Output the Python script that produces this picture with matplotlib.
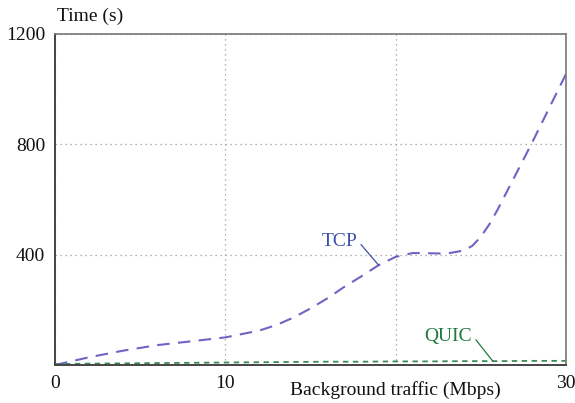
import matplotlib
matplotlib.use("Agg")
import matplotlib.pyplot as plt

plt.rcParams['font.family'] = ['Liberation Serif', 'DejaVu Serif']

tcp_x = [0, 2, 4, 6, 8, 10, 12, 13, 14, 15, 16, 17, 18, 19, 20, 21, 22, 23, 24, 24.5, 25, 25.5, 26, 27, 28, 29, 30]
tcp_y = [0, 28, 52, 72, 86, 100, 125, 145, 172, 205, 242, 284, 322, 362, 392, 406, 405, 404, 415, 432, 465, 510, 565, 685, 805, 930, 1055]
quic_x = [0, 2, 4, 6, 8, 10, 12, 14, 16, 18, 20, 22, 24, 26, 28, 30]
quic_y = [3, 5, 6, 7, 8, 9, 10, 11, 12, 12, 13, 13, 14, 14, 15, 15]
xticks = [0, 10, 20, 30]
xticklabels = ['0', '10', '', '30']
yticks = [400, 800, 1200]
yticklabels = ['400', '800', '1200']

fig = plt.figure(figsize=(5.75, 4.03), dpi=100)
ax = fig.add_axes([55/575, 1-365/403, (566-55)/575, (365-34)/403])

ax.plot(tcp_x, tcp_y, color='#6f63c4', lw=1.5, dashes=(6, 4))
ax.plot(quic_x, quic_y, color='#3a8a55', lw=1.3, dashes=(3, 2.5))

ax.set_xlim(0, 30)
ax.set_ylim(0, 1200)
ax.set_xticks(xticks)
ax.set_xticklabels(xticklabels)
ax.set_yticks(yticks)
ax.set_yticklabels(yticklabels)
ax.tick_params(length=0, labelsize=14, colors='#111111')
ax.tick_params(axis='x', pad=7)
ax.tick_params(axis='y', pad=7)
ax.grid(True, color='#999999', linestyle=(0, (1, 3)), linewidth=0.9)

for s in ['left', 'bottom']:
    ax.spines[s].set_color('#444444')
    ax.spines[s].set_linewidth(1.4)
for s in ['top', 'right']:
    ax.spines[s].set_color('#777777')
    ax.spines[s].set_linewidth(1.2)

ax.annotate('TCP', xy=(19.0, 362), xytext=(16.7, 446), color='#3b4fae', fontsize=14,
            ha='center', va='center',
            arrowprops=dict(arrowstyle='-', color='#3b4fae', lw=0.9, shrinkA=1, shrinkB=0,
                            relpos=(1.0, 0.6)))
ax.annotate('QUIC', xy=(25.7, 14), xytext=(23.1, 102), color='#1f7a3f', fontsize=14,
            ha='center', va='center',
            arrowprops=dict(arrowstyle='-', color='#1f7a3f', lw=0.9, shrinkA=1, shrinkB=0,
                            relpos=(1.0, 0.6)))

fig.text(57/575, 1-16/403, 'Time (s)', fontsize=14, ha='left', va='center', color='#111111')
fig.text(395/575, 1-390/403, 'Background traffic (Mbps)', fontsize=14, ha='center', va='center', color='#111111')

fig.savefig('out.png', dpi=100)
